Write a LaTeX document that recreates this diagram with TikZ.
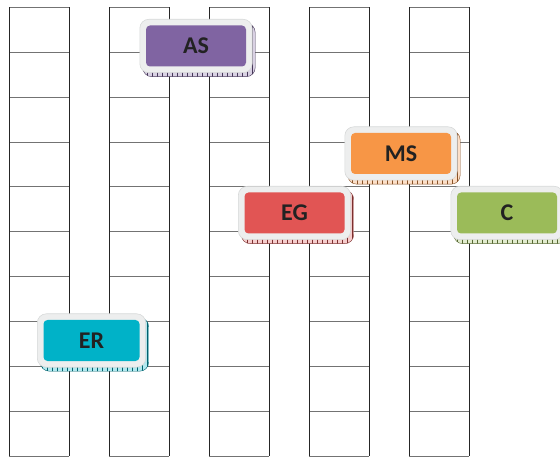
\documentclass[tikz,border=0pt]{standalone}
\usepackage{fontspec}
\newfontfamily\tagfamily{Carlito}
\usetikzlibrary{patterns}

\definecolor{asviolet}{HTML}{8064A2}
\definecolor{msorange}{HTML}{F79646}
\definecolor{egred}{HTML}{E15554}
\definecolor{cgreen}{HTML}{9BBB59}
\definecolor{ercyan}{HTML}{00B2C8}
\definecolor{tagtext}{HTML}{222222}
\definecolor{framegray}{HTML}{EDEEEE}
\definecolor{frameedge}{HTML}{D6D8D8}

% sparse ticks for the tag shadows
\pgfdeclarepatternformonly{shadowticks}{\pgfqpoint{-1pt}{-1pt}}{\pgfqpoint{5pt}{20pt}}{\pgfqpoint{5pt}{20pt}}{
    \pgfsetlinewidth{0.5pt}
    \pgfpathmoveto{\pgfqpoint{2pt}{-1pt}}
    \pgfpathlineto{\pgfqpoint{2pt}{21pt}}
    \pgfusepath{stroke}
}

\pgfdeclarelayer{gridlayer}
\pgfdeclarelayer{background}
\pgfsetlayers{gridlayer,background,main}

\begin{document}
\begin{tikzpicture}[
    x=1pt, y=-1pt,
    rowline/.style={
        draw=black!55,
        line width=1pt
    },
    colline/.style={
        draw=black!85,
        line width=1pt
    },
    tagbox/.style={
        rectangle,
        rounded corners=4pt,
        fill=#1,
        minimum width=100pt,
        minimum height=41pt,
        inner sep=0pt,
        text=tagtext,
        font=\tagfamily\bfseries\fontsize{24}{24}\selectfont
    },
    tagframe/.style={
        rounded corners=9pt,
        fill=framegray,
        draw=frameedge,
        line width=0.6pt
    },
    tagshadow/.style={
        rounded corners=9pt,
        preaction={fill=#1!30!white},
        pattern=shadowticks,
        pattern color=#1!55!black,
        draw=#1!55!black,
        line width=0.4pt
    }
]
\useasboundingbox (0,0) rectangle (560,457);

% Cells: five columns of ten
\begin{pgfonlayer}{gridlayer}
\foreach \c in {0,...,4} {
    \foreach \r in {0,...,10}
        \draw[rowline] ({9+100*\c},{7.5+44.85*\r}) -- ({69+100*\c},{7.5+44.85*\r});
    \draw[colline] ({9+100*\c},7.5) -- ({9+100*\c},456);
    \draw[colline] ({69+100*\c},7.5) -- ({69+100*\c},456);
}
\end{pgfonlayer}

% Tags
\node[tagbox=asviolet] (as) at (196,46) {AS};
\node[tagbox=msorange] (ms) at (401,153.5) {MS};
\node[tagbox=egred] (eg) at (294.5,213) {EG};
\node[tagbox=cgreen] (c) at (507,213) {C};
\node[tagbox=ercyan, minimum width=96pt] (er) at (91.5,340.5) {ER};

% Frames and shadows behind the tags
\begin{pgfonlayer}{background}
\foreach \n/\col in {as/asviolet, ms/msorange, eg/egred, c/cgreen, er/ercyan} {
    \draw[tagshadow=\col] ([xshift=-3pt,yshift=2pt]\n.north west) rectangle ([xshift=9pt,yshift=-10pt]\n.south east);
    \draw[tagframe] ([xshift=-6pt,yshift=6pt]\n.north west) rectangle ([xshift=6pt,yshift=-6pt]\n.south east);
}
\end{pgfonlayer}

\end{tikzpicture}
\end{document}
